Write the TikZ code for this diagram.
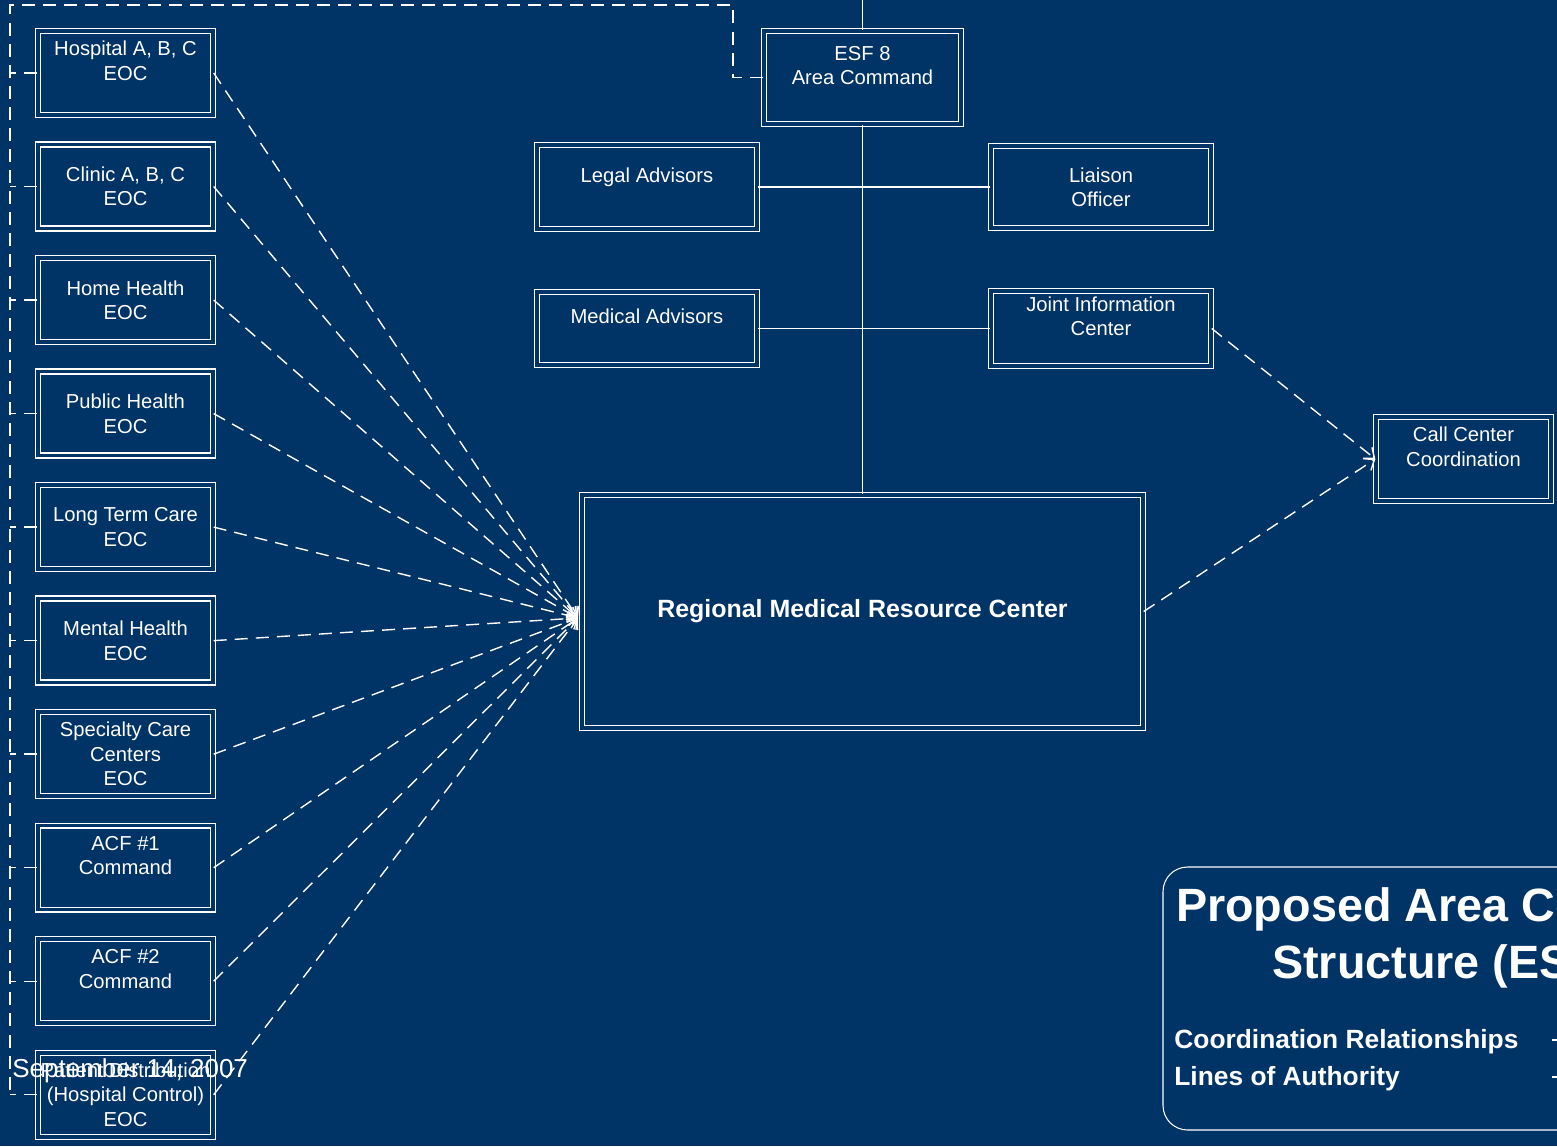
\documentclass[tikz,border=0pt]{standalone}
\usepackage{fontspec}
\setmainfont{Liberation Sans}
\usetikzlibrary{positioning, arrows.meta}
\definecolor{ncblue}{HTML}{003366}
\tikzset{
>={Straight Barb[length=5pt,width=8pt]}, % open heads as on the slide
box/.style={draw=white, line width=0.8pt, double=ncblue, double distance=2pt, text=white, align=center, inner xsep=1pt, font=\fontsize{11.5}{13.9}\selectfont}, % double framed boxes
eoc/.style={box, minimum width=3.5cm, minimum height=1.68cm},
coord/.style={white, line width=0.8pt, dash pattern=on 7.4pt off 4.6pt}, % coordination relationships
authority/.style={white, line width=0.8pt}, % lines of authority
legend/.style={anchor=base west, inner sep=0pt, text=white, font=\bfseries\fontsize{15}{18}\selectfont},
}

\begin{document}
\begin{tikzpicture}[x=0.02cm, y=-0.02cm, node distance=2.271cm]
\useasboundingbox (0,0) rectangle (1557,1146);
\fill[ncblue] (0,0) rectangle (1557,1146);

% EOC column
\node[eoc] (hosp) at (125.5,73) {Hospital A, B, C\\EOC\\\mbox{}};
\node[eoc, below of=hosp] (clinic) {Clinic A, B, C\\EOC};
\node[eoc, below of=clinic] (home) {Home Health\\EOC};
\node[eoc, below of=home] (public) {Public Health\\EOC};
\node[eoc, below of=public] (ltc) {Long Term Care\\EOC};
\node[eoc, below of=ltc] (mental) {Mental Health\\EOC};
\node[eoc, below of=mental] (spec) {Specialty Care\\Centers\\EOC};
\node[eoc, below of=spec] (acf1) {ACF \#1\\Command\\\mbox{}};
\node[eoc, below of=acf1] (acf2) {ACF \#2\\Command\\\mbox{}};
\node[eoc, below of=acf2] (pdist) {Patient Distribution\\(Hospital Control)\\EOC};

% command staff
\node[box, minimum width=3.94cm, minimum height=1.86cm] (esf) at (862.5,77.5) {ESF 8\\Area Command\\\mbox{}};
\node[box, minimum width=4.4cm, minimum height=1.68cm] (legal) at (647,187) {Legal Advisors\\\mbox{}};
\node[box, minimum width=4.4cm, minimum height=1.64cm] (liaison) at (1101,187) {Liaison\\Officer};
\node[box, minimum width=4.4cm, minimum height=1.46cm] (medical) at (647,328.5) {Medical Advisors\\\mbox{}};
\node[box, minimum width=4.4cm, minimum height=1.46cm] (jic) at (1101,328.5) {Joint Information\\Center\\\mbox{}};
\node[box, minimum width=11.22cm, minimum height=4.66cm, font=\bfseries\fontsize{14.2}{17}\selectfont] (rmrc) at (862.5,611.5) {Regional Medical Resource Center};
\node[box, minimum width=3.5cm, minimum height=1.68cm] (call) at (1463.5,459) {Call Center\\Coordination\\\mbox{}};

\coordinate (hub) at (578,618);
\coordinate (parent) at (862.5,-20);
\coordinate (bustop) at (10,5);
\coordinate (busbot) at (10,1095);
\coordinate (busjog) at (733,5);

\draw[authority]
    (parent) -- (esf.north)
    (esf.south) -- (rmrc.north)
    (legal.east) -- (liaison.west)
    (medical.east) -- (jic.west);

\draw[coord]
    (hosp.east) edge[->] (hub)
    (clinic.east) edge[->] (hub)
    (home.east) edge[->] (hub)
    (public.east) edge[->] (hub)
    (ltc.east) edge[->] (hub)
    (mental.east) edge[->] (hub)
    (spec.east) edge[->] (hub)
    (acf1.east) edge[->] (hub)
    (acf2.east) edge[->] (hub)
    (pdist.east) edge[->] (hub)
    (jic.east) edge[->] (call.west)
    (rmrc.east) edge[->] (call.west);

% dashed bus on the left
\draw[coord] (esf.west) -| (busjog) -- (bustop) -- (busbot);
\draw[coord]
    (hosp.west) edge (hosp.west -| bustop)
    (clinic.west) edge (clinic.west -| bustop)
    (home.west) edge (home.west -| bustop)
    (public.west) edge (public.west -| bustop)
    (ltc.west) edge (ltc.west -| bustop)
    (mental.west) edge (mental.west -| bustop)
    (spec.west) edge (spec.west -| bustop)
    (acf1.west) edge (acf1.west -| bustop)
    (acf2.west) edge (acf2.west -| bustop)
    (pdist.west) edge (pdist.west -| bustop);

% title panel
\draw[white, line width=0.6pt, rounded corners=14pt] (1163,867) rectangle (1700,1130);
\node[anchor=base, text=white, font=\bfseries\fontsize{26.6}{32}\selectfont] (title1) at (1463,921) {Proposed Area Command};
\node[anchor=base, text=white, font=\bfseries\fontsize{26.6}{32}\selectfont] (title2) at (1463,978) {Structure (ESF 8)};
\node[legend] (legcoord) at (1174,1048) {Coordination Relationships};
\node[legend] (legauth) at (1174,1085) {Lines of Authority};
\coordinate (legc) at (1552,1040);
\coordinate (lega) at (1552,1077);
\draw[coord] (legc) -- ++(120,0);
\draw[authority] (lega) -- ++(120,0);

\node[anchor=base west, inner sep=0pt, text=white, font=\fontsize{14.8}{17}\selectfont] (date) at (12,1077) {September 14, 2007};
\end{tikzpicture}
\end{document}
